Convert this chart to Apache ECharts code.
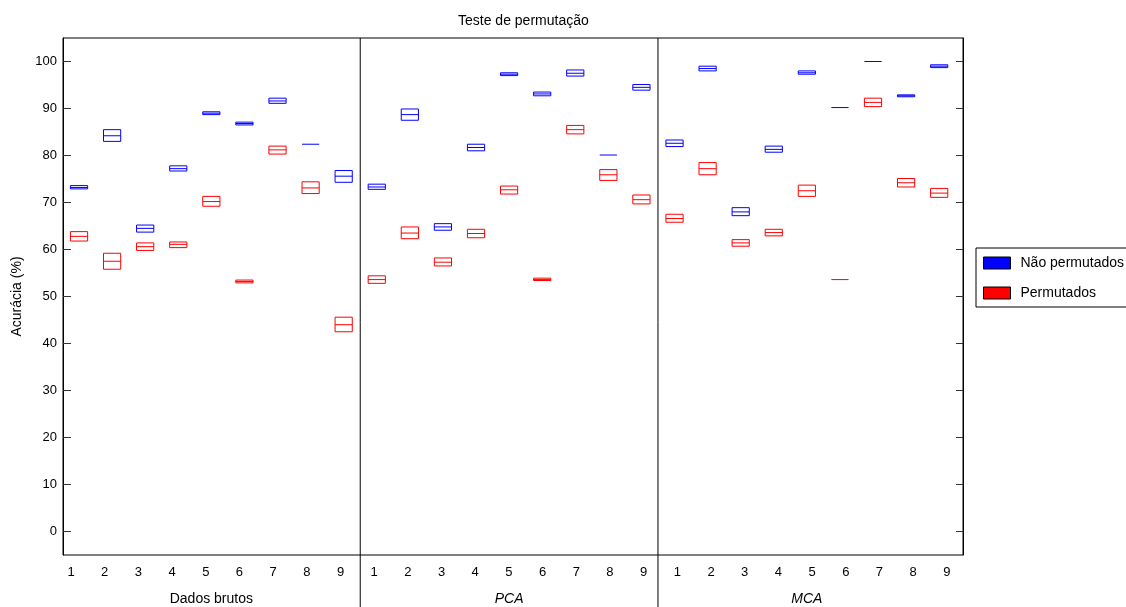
<!DOCTYPE html>
<html>
<head>
<meta charset="utf-8">
<title>Teste de permutação</title>
<script src="https://cdn.jsdelivr.net/npm/echarts@6/dist/echarts.min.js"></script>
<style>
  html, body { margin: 0; padding: 0; background: #fff; }
  #chart { width: 1126px; height: 607px; }
</style>
</head>
<body>
<div id="chart"></div>
<script>
// Categories within each panel and the three data treatments
const categories = ['1', '2', '3', '4', '5', '6', '7', '8', '9'];
const methods = ['Dados brutos', 'PCA', 'MCA'];
const seriesNames = ['Não permutados', 'Permutados'];
const yTicks = [0, 10, 20, 30, 40, 50, 60, 70, 80, 90, 100];

// Accuracy (%) per category as [Q1, median, Q3]
const dadosNaoPermutados = [
  [72.9, 73.2, 73.6], [83.0, 84.2, 85.5], [63.7, 64.5, 65.2],
  [76.7, 77.2, 77.8], [88.7, 89.0, 89.3], [86.5, 86.8, 87.1],
  [91.1, 91.6, 92.2], [82.4, 82.4, 82.4], [74.3, 75.6, 76.8]
];
const dadosPermutados = [
  [61.8, 62.8, 63.8], [55.8, 57.5, 59.2], [59.8, 60.6, 61.4],
  [60.4, 61.1, 61.6], [69.2, 70.2, 71.3], [52.9, 53.2, 53.5],
  [80.3, 81.2, 82.0], [71.9, 73.1, 74.4], [42.5, 44.0, 45.6]
];
const pcaNaoPermutados = [
  [72.8, 73.3, 73.9], [87.5, 88.7, 89.9], [64.1, 64.8, 65.5],
  [81.0, 81.7, 82.4], [97.0, 97.3, 97.6], [92.7, 93.1, 93.5],
  [96.9, 97.5, 98.2], [80.1, 80.1, 80.1], [93.9, 94.5, 95.1]
];
const pcaPermutados = [
  [52.8, 53.6, 54.4], [62.3, 63.5, 64.8], [56.5, 57.3, 58.2],
  [62.5, 63.4, 64.3], [71.8, 72.7, 73.5], [53.4, 53.6, 53.9],
  [84.6, 85.5, 86.4], [74.7, 75.9, 77.0], [69.7, 70.6, 71.6]
];
const mcaNaoPermutados = [
  [81.9, 82.6, 83.3], [98.0, 98.5, 99.0], [67.2, 68.0, 68.9],
  [80.7, 81.3, 82.0], [97.3, 97.6, 98.0], [90.2, 90.2, 90.2],
  [100, 100, 100], [92.5, 92.7, 92.9], [98.7, 99.0, 99.3]
];
const mcaPermutados = [
  [65.8, 66.6, 67.5], [75.9, 77.2, 78.5], [60.7, 61.4, 62.1],
  [62.9, 63.6, 64.3], [71.3, 72.5, 73.7], [53.6, 53.6, 53.6],
  [90.4, 91.3, 92.2], [73.3, 74.2, 75.1], [71.1, 72.0, 73.0]
];

const naoPermutados = [dadosNaoPermutados, pcaNaoPermutados, mcaNaoPermutados];
const permutados = [dadosPermutados, pcaPermutados, mcaPermutados];

const FONT = "'Liberation Sans', Arial, sans-serif";
const BLUE = '#0000ff';
const RED = '#ff0000';

// Flatten panels onto one continuous x scale: panel m, category j -> m*9 + j + 1
function toPoints(groups) {
  const out = [];
  groups.forEach((g, m) => {
    g.forEach((v, j) => out.push([m * categories.length + j + 1, v[0], v[1], v[2]]));
  });
  return out;
}

const nCat = categories.length;
const labelPositions = [];
for (let i = 1; i <= methods.length * nCat; i++) labelPositions.push(i);
const panelCenters = methods.map((_, m) => m * nCat + (nCat + 1) / 2);
const panelBounds = [];
for (let m = 1; m < methods.length; m++) panelBounds.push([m * nCat + 0.5]);

// Box with median line, no whiskers
function boxRenderer(color) {
  return function (params, api) {
    const x = api.value(0);
    const lo = api.coord([x, api.value(1)]);
    const md = api.coord([x, api.value(2)]);
    const hi = api.coord([x, api.value(3)]);
    const w = api.size([1, 0])[0] * 0.52;
    const left = lo[0] - w / 2;
    const children = [];
    if (lo[1] - hi[1] >= 1) {
      children.push({
        type: 'rect',
        shape: { x: left, y: hi[1], width: w, height: lo[1] - hi[1] },
        style: { fill: 'none', stroke: color, lineWidth: 1 }
      });
    }
    children.push({
      type: 'line',
      shape: { x1: left, y1: md[1], x2: left + w, y2: md[1] },
      style: { stroke: color, lineWidth: 1 }
    });
    return { type: 'group', children: children };
  };
}

// Vertical separators between panels, running down through the label area
function renderDivider(params, api) {
  const top = api.coord([api.value(0), 105]);
  return {
    type: 'line',
    shape: { x1: top[0], y1: top[1], x2: top[0], y2: api.getHeight() },
    style: { stroke: '#000', lineWidth: 1 }
  };
}

const chart = echarts.init(document.getElementById('chart'), null, { renderer: 'canvas' });

chart.setOption({
  backgroundColor: '#fff',
  animation: false,
  textStyle: { fontFamily: FONT },
  title: {
    text: 'Teste de permutação',
    left: 458,
    top: 14,
    padding: 0,
    textStyle: { fontFamily: FONT, fontSize: 14, fontWeight: 'normal', color: '#000' }
  },
  legend: {
    orient: 'vertical',
    left: 976,
    top: 248,
    padding: [8, 40, 7, 7],
    borderColor: '#000',
    borderWidth: 1,
    itemWidth: 27,
    itemHeight: 12,
    itemGap: 16,
    textStyle: { fontFamily: FONT, fontSize: 14, color: '#000', padding: [0, 0, 0, 5] },
    data: [
      { name: seriesNames[0], icon: 'rect', itemStyle: { color: BLUE, borderColor: '#000', borderWidth: 1 } },
      { name: seriesNames[1], icon: 'rect', itemStyle: { color: RED, borderColor: '#000', borderWidth: 1 } }
    ]
  },
  grid: {
    left: 63,
    right: 163,
    top: 38,
    bottom: 52,
    outerBoundsMode: 'none',
    containLabel: false,
    show: true,
    borderColor: '#000',
    borderWidth: 1,
    backgroundColor: 'transparent'
  },
  xAxis: [
    {
      // data scale
      type: 'value',
      min: 0.516,
      max: 27.72,
      axisLine: { show: false },
      axisTick: { show: false },
      axisLabel: { show: false },
      splitLine: { show: false }
    },
    {
      // panel names
      type: 'value',
      position: 'bottom',
      min: 0.516,
      max: 27.72,
      axisLine: { show: false },
      axisTick: { show: false },
      splitLine: { show: false },
      axisLabel: {
        customValues: panelCenters,
        margin: 37,
        fontFamily: FONT,
        fontSize: 14,
        color: '#000',
        formatter: function (v) {
          const m = Math.round((v - (nCat + 1) / 2) / nCat);
          return m === 0 ? '{n|' + methods[m] + '}' : '{i|' + methods[m] + '}';
        },
        rich: {
          n: { fontFamily: FONT, fontSize: 14, color: '#000' },
          i: { fontFamily: FONT, fontSize: 14, color: '#000', fontStyle: 'italic' }
        }
      }
    },
    {
      // category tick labels
      type: 'value',
      position: 'bottom',
      min: 0.762,
      max: 27.48,
      axisLine: { show: false },
      axisTick: { show: false },
      splitLine: { show: false },
      axisLabel: {
        customValues: labelPositions,
        margin: 11,
        fontFamily: FONT,
        fontSize: 13,
        color: '#000',
        formatter: function (v) {
          return categories[(Math.round(v) - 1) % nCat];
        }
      }
    }
  ],
  yAxis: [
    {
      type: 'value',
      min: -5,
      max: 105,
      name: 'Acurácia (%)',
      nameLocation: 'middle',
      nameGap: 37,
      nameTextStyle: { fontFamily: FONT, fontSize: 14, color: '#000' },
      axisLine: { show: true, lineStyle: { color: '#000' } },
      axisTick: { show: true, inside: true, length: 8, customValues: yTicks, lineStyle: { color: '#333' } },
      axisLabel: { customValues: yTicks, margin: 6, fontFamily: FONT, fontSize: 13, color: '#000' },
      splitLine: { show: false }
    },
    {
      type: 'value',
      position: 'right',
      min: -5,
      max: 105,
      axisLine: { show: true, lineStyle: { color: '#000' } },
      axisTick: { show: true, inside: true, length: 7, customValues: yTicks, lineStyle: { color: '#333' } },
      axisLabel: { show: false },
      splitLine: { show: false }
    }
  ],
  series: [
    {
      name: seriesNames[0],
      type: 'custom',
      xAxisIndex: 0,
      yAxisIndex: 0,
      color: BLUE,
      itemStyle: { color: BLUE },
      renderItem: boxRenderer(BLUE),
      encode: { x: 0, y: [1, 2, 3] },
      data: toPoints(naoPermutados)
    },
    {
      name: seriesNames[1],
      type: 'custom',
      xAxisIndex: 0,
      yAxisIndex: 0,
      color: RED,
      itemStyle: { color: RED },
      renderItem: boxRenderer(RED),
      encode: { x: 0, y: [1, 2, 3] },
      data: toPoints(permutados)
    },
    {
      name: 'divisores',
      type: 'custom',
      xAxisIndex: 0,
      yAxisIndex: 0,
      clip: false,
      silent: true,
      renderItem: renderDivider,
      encode: { x: 0 },
      data: panelBounds
    }
  ]
});
</script>
</body>
</html>
